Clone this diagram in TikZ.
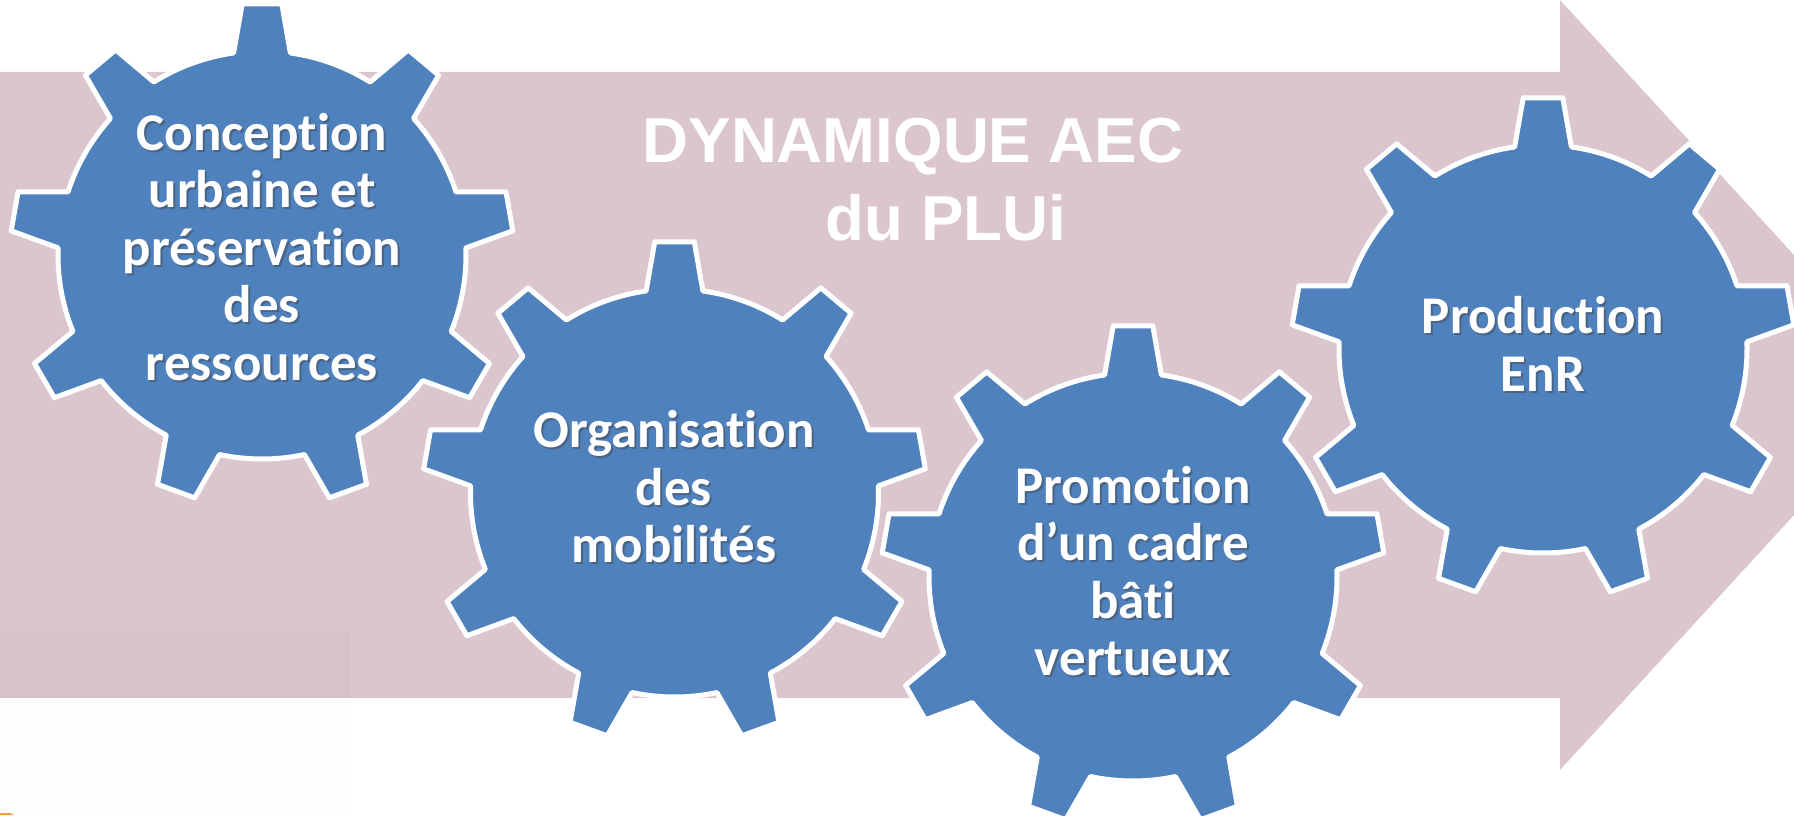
\documentclass[tikz,border=0pt]{standalone}
\usepackage{fontspec}
\setmainfont[Ligatures=CommonOff]{Carlito}
\newfontfamily\titlefont{Liberation Sans}
\definecolor{arrowpink}{HTML}{DBC6CF}
\definecolor{gearblue}{HTML}{4F81BD}
\definecolor{paleback}{HTML}{FDFDFB}
\definecolor{smudge}{HTML}{F39A3C}
\newcommand{\geardraw}[2]{
	\draw[gearline] ({#1+204*cos(82)},{#2+204*sin(82)})
	\foreach \a in {90,130,...,410} {
		-- ({#1+204*cos(\a-8)},{#2+204*sin(\a-8)})
		-- ({#1+252*cos(\a-4.5)},{#2+252*sin(\a-4.5)})
		-- ({#1+252*cos(\a+4.5)},{#2+252*sin(\a+4.5)})
		-- ({#1+204*cos(\a+8)},{#2+204*sin(\a+8)})
		arc[start angle=\a+8, end angle=\a+32, radius=204pt]
	} -- cycle;
}
\newcommand{\gearlabel}[4]{
	\node[gearshadow] at ([shift={(2pt,-2pt)}]#2,#3) {#4};
	\node[geartext] (#1) at (#2,#3) {#4};
}
\begin{document}
\begin{tikzpicture}[x=1pt,y=1pt]
	\tikzstyle{gearline}=[fill=gearblue,draw=white,line width=5pt,line join=round]
	\tikzstyle{geartext}=[text=white,align=center,inner sep=0pt,font=\fontsize{53}{57.5}\selectfont\bfseries]
	\tikzstyle{gearshadow}=[geartext,text=black!75,opacity=0.45]
	\tikzstyle{titletext}=[text=white,align=center,inner sep=0pt,font=\fontsize{63.6}{78}\selectfont\titlefont\bfseries]
	\useasboundingbox (0,0) rectangle (1794,815);
	% arrow
	\fill[arrowpink] (0,743) -- (1560,743) -- (1560,815) -- (1794,560) -- (1794,300) -- (1560,45) -- (1560,117) -- (0,117) -- cycle;
	% pale patch
	\fill[paleback,opacity=0.95] (0,0) rectangle (350,117);
	\fill[black,opacity=0.015] (0,117) rectangle (350,184);
	\fill[smudge] (0,0) -- (0,2) -- (10,2) -- (14,0) -- cycle;
	\node[titletext] (title) at (913,635) {DYNAMIQUE AEC\\\hspace{66pt}du PLUi};
	% gears
	\geardraw{262}{560}
	\geardraw{674.5}{322}
	\geardraw{1133}{238}
	\geardraw{1543}{466}
	\gearlabel{conception}{262}{568}{Conception\\urbaine et\\préservation\\des\\ressources}
	\gearlabel{organisation}{674}{328}{Organisation\\des\\mobilités}
	\gearlabel{promotion}{1133}{244}{Promotion\\d’un cadre\\bâti\\vertueux}
	\gearlabel{production}{1543}{471}{Production\\EnR}
\end{tikzpicture}
\end{document}
